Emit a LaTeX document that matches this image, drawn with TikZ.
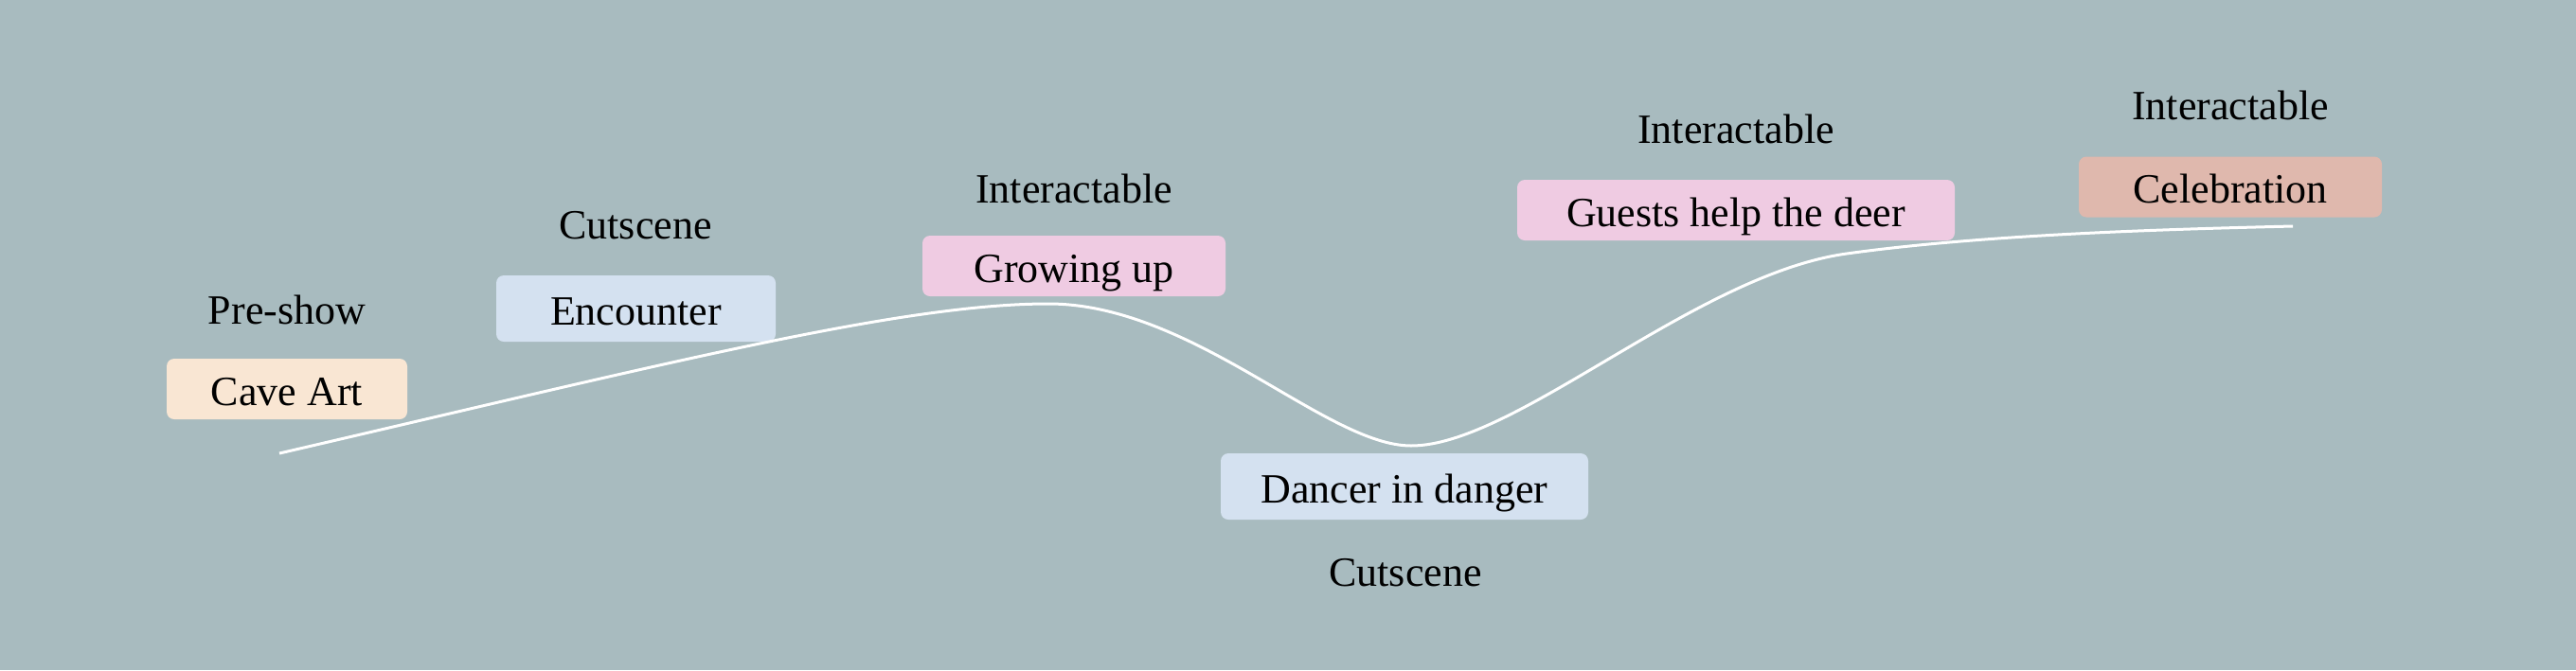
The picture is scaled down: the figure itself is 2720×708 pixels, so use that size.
\documentclass[tikz,border=0pt]{standalone}
\usepackage{fontspec}
\setmainfont{Liberation Serif}
\definecolor{bgc}{HTML}{A8BBBF}
\definecolor{peach}{HTML}{F9E6D3}
\definecolor{lblue}{HTML}{D4E1F0}
\definecolor{lpink}{HTML}{EFCBE2}
\definecolor{salmon}{HTML}{DFB8AD}
\begin{document}
\begin{tikzpicture}[x=0.25pt,y=-0.25pt,
  stage/.style={rectangle, rounded corners=2pt, draw=none, inner sep=0pt,
    font=\fontsize{11}{13}\selectfont, text height=10pt, text depth=1.5pt,
    minimum height=16pt, anchor=center},
  kind/.style={font=\fontsize{11}{13}\selectfont, anchor=base, inner sep=0pt},
  arc/.style={draw=white, line width=0.75pt}]
\fill[bgc] (0,0) rectangle (2720,708);
\useasboundingbox (0,0) rectangle (2720,708);
% boxes
\node[stage, fill=peach, minimum width=63.5pt] (cave) at (303,411) {Cave Art};
\node[stage, fill=lblue, minimum width=73.75pt, minimum height=17.5pt] (enc) at (671.5,326) {Encounter};
\node[stage, fill=lpink, minimum width=80pt] (grow) at (1134,281) {Growing up};
\node[stage, fill=lblue, minimum width=97pt, minimum height=17.5pt] (dancer) at (1483,514) {Dancer in danger};
\node[stage, fill=lpink, minimum width=115.5pt] (guests) at (1833,222) {Guests help the deer};
\node[stage, fill=salmon, minimum width=80pt] (celeb) at (2355,197.5) {Celebration};
% kind labels
\node[kind] (k1) at (303,342) {Pre-show};
\node[kind] (k2) at (671,252) {Cutscene};
\node[kind] (k3) at (1134,214) {Interactable};
\node[kind] (k4) at (1484,619) {Cutscene};
\node[kind] (k5) at (1833,151) {Interactable};
\node[kind] (k6) at (2355,126) {Interactable};
% journey curve
\coordinate (p0) at (295,479);
\coordinate (p1) at (1107,321);
\coordinate (p2) at (1490,471);
\coordinate (p3) at (1950,268);
\coordinate (p4) at (2421,239);
\draw[arc] (p0) .. controls (700,385) and (950,321) .. (p1)
  .. controls (1260,321) and (1400,471) .. (p2)
  .. controls (1600,471) and (1790,290) .. (p3)
  .. controls (2100,247) and (2300,242) .. (p4);
\end{tikzpicture}
\end{document}
